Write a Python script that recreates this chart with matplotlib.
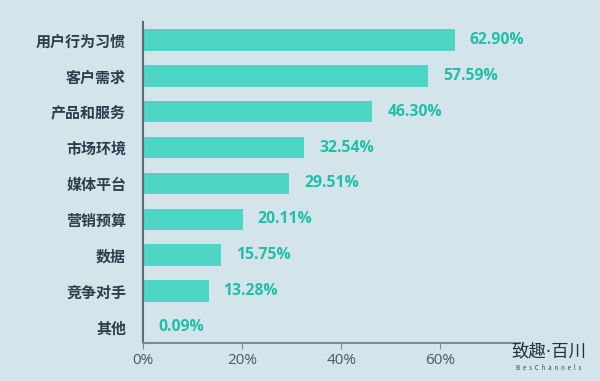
import matplotlib
matplotlib.use("Agg")
import matplotlib.pyplot as plt

# DATA
categories = ["用户行为习惯", "客户需求", "产品和服务", "市场环境", "媒体平台",
              "营销预算", "数据", "竞争对手", "其他"]
values = [62.90, 57.59, 46.30, 32.54, 29.51, 20.11, 15.75, 13.28, 0.09]
xticks = [0, 20, 40, 60]

BG = "#d3e5ea"
BAR = "#4dd6c6"
LABEL = "#20bfa9"
TEXT = "#2e3d4d"
LATIN = ['Open Sans', 'Noto Sans CJK SC']

plt.rcParams['font.family'] = ['Noto Sans CJK SC', 'DejaVu Sans']

fig = plt.figure(figsize=(6, 3.81), dpi=100, facecolor=BG)
ax = fig.add_axes([0.238, 0.0997, 0.6283, 0.8423], facecolor=BG)

ypos = list(range(len(categories)))
ax.barh(ypos, values, height=0.6, color=BAR)

for y, v in zip(ypos, values):
    ax.text(v + 3.0, y, f"{v:.2f}%", va="center", ha="left", family=LATIN,
            color=LABEL, fontsize=11.3, fontweight="bold")

ax.set_ylim(8.45, -0.5)
ax.set_xlim(0, 76)
ax.set_yticks(ypos)
ax.set_yticklabels(categories, fontsize=10.8, fontweight="bold", color=TEXT)
ax.set_xticks(xticks)
ax.set_xticklabels([f"{t}%" for t in xticks], fontsize=11, color="#4a5866",
                   family=LATIN)

ax.tick_params(axis="y", length=0, pad=12)
ax.tick_params(axis="x", length=4, color="#7a8a96", pad=3)
for s in ["top", "right"]:
    ax.spines[s].set_visible(False)
ax.spines["left"].set_color("#5f6b75")
ax.spines["left"].set_linewidth(1.5)
ax.spines["bottom"].set_color("#7a8a96")
ax.spines["bottom"].set_linewidth(1.5)

# logo
fig.text(0.915, 0.077, "致趣·百川", ha="center", va="center",
         fontsize=12.5, color="#24323f", family=['DejaVu Sans', 'Noto Sans CJK SC'])
fig.text(0.915, 0.034, "  ".join("BesChannels"), ha="center", va="center",
         fontsize=4.5, color="#3a4652")

fig.savefig("out.png", dpi=100, facecolor=BG)
